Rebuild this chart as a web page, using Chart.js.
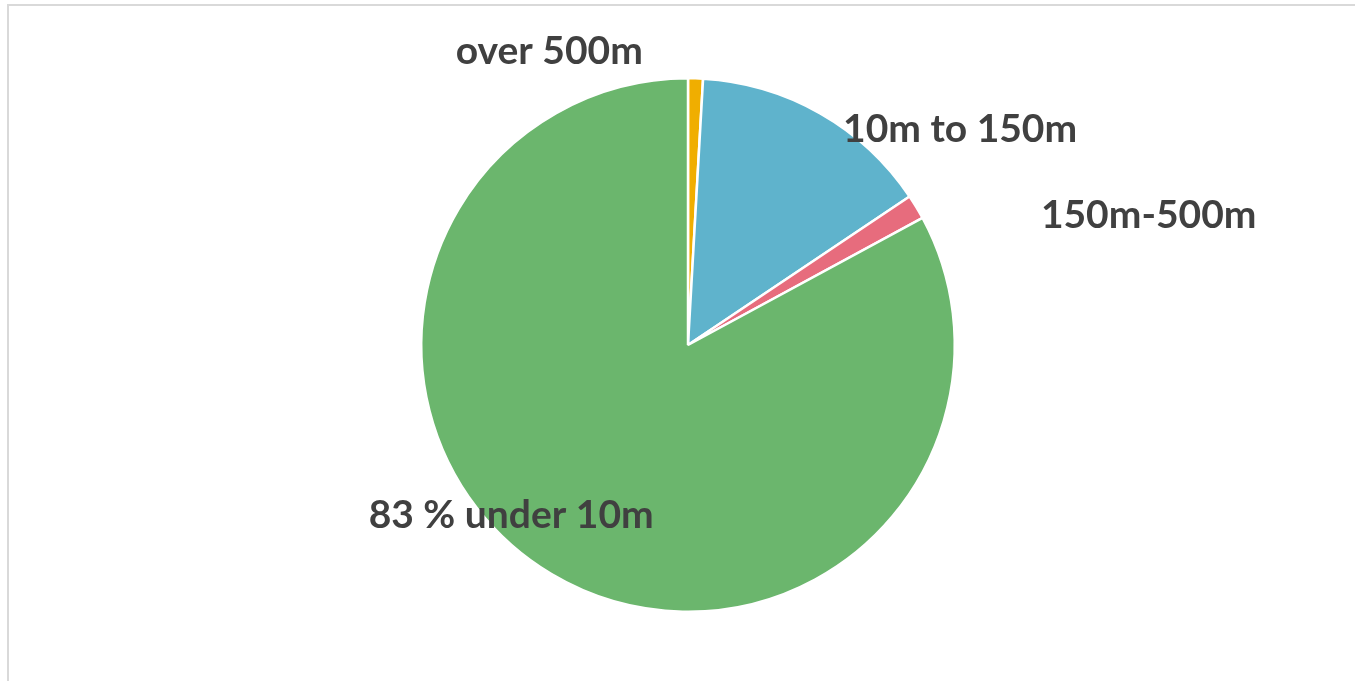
<!DOCTYPE html>
<html>
<head>
<meta charset="utf-8">
<script src="https://cdn.jsdelivr.net/npm/chart.js@4.4.1/dist/chart.umd.min.js"></script>
<style>
  html, body { margin: 0; padding: 0; background: #fff; overflow: hidden; }
  #wrap { position: relative; width: 1355px; height: 681px; }
  #frame { position: absolute; left: 7px; top: 4px; width: 1400px; height: 700px; border: 2px solid #d9d9d9; box-sizing: border-box; }
  canvas { position: absolute; left: 0; top: 0; }
</style>
</head>
<body>
<div id="wrap">
  <div id="frame"></div>
  <canvas id="c" width="1355" height="681"></canvas>
</div>
<script>
const categories = ["over 500m", "10m to 150m", "150m-500m", "83 % under 10m"];
const shares = [0.9, 14.7, 1.5, 82.9];
const sliceColors = ["#F0AE00", "#5FB3CC", "#E76C7D", "#6BB66D"];

// label placement relative to pie centre, in units of radius
const labelOffsets = [[-0.52, -1.10], [1.02, -0.81], [1.727, -0.487], [-0.663, 0.64]];

const labelPlugin = {
  id: 'sliceLabels',
  afterDatasetsDraw(chart) {
    const ctx = chart.ctx;
    const meta = chart.getDatasetMeta(0);
    ctx.save();
    ctx.font = 'bold 39px Lato, "Open Sans", sans-serif';
    ctx.fillStyle = '#404040';
    ctx.textAlign = 'center';
    ctx.textBaseline = 'middle';
    meta.data.forEach((arc, i) => {
      const r = arc.outerRadius;
      const o = labelOffsets[i];
      ctx.fillText(chart.data.labels[i], arc.x + o[0] * r, arc.y + o[1] * r);
    });
    ctx.restore();
  }
};

new Chart(document.getElementById('c'), {
  type: 'pie',
  data: {
    labels: categories,
    datasets: [{
      data: shares,
      backgroundColor: sliceColors,
      borderColor: '#ffffff',
      borderWidth: 2.5
    }]
  },
  options: {
    responsive: false,
    animation: false,
    layout: { padding: { top: 77, bottom: 68, left: 21, right: 0 } },
    plugins: { legend: { display: false }, tooltip: { enabled: false } }
  },
  plugins: [labelPlugin]
});
</script>
</body>
</html>
